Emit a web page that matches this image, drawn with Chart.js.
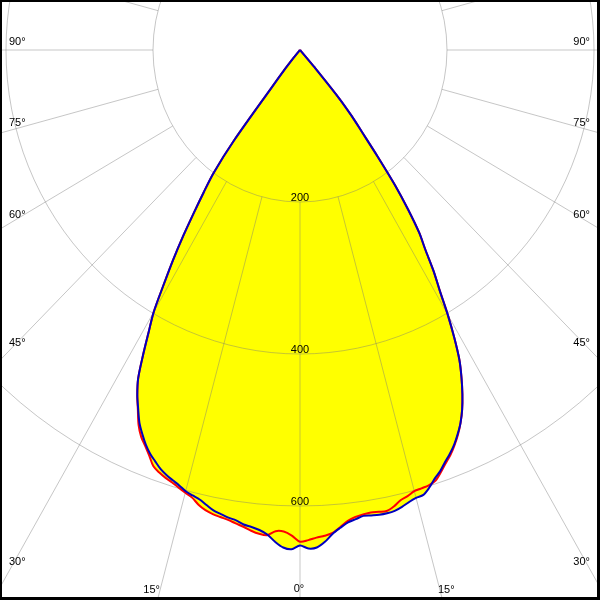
<!DOCTYPE html>
<html>
<head>
<meta charset="utf-8">
<script src="https://cdn.jsdelivr.net/npm/chart.js@4"></script>
<style>
  html, body { margin: 0; padding: 0; background: #fff; }
  canvas { display: block; }
</style>
</head>
<body>
<canvas id="grafico" width="600" height="600"></canvas>
<script>
// angles in degrees (negative = left half), intensities in cd
const angulos = [-45,-44,-43,-42,-41,-40,-39,-38,-37,-36,-35,-34,-33,-32,-31,-30,-29,-28,-27,-26,
  -25,-24,-23,-22,-21,-20,-19,-18,-17,-16,-15,-14,-13,-12,-11,-10,-9,-8,-7,-6,-5,-4,-3,-2,-1,
  0,1,2,3,4,5,6,7,8,9,10,11,12,13,14,15,16,17,18,19,20,21,22,23,24,25,
  26,27,28,29,30,31,32,33,34,35,36,37,38,39,40,41,42,43,44,45];

const curvaAzul = [0,0,0,0,5,15,35,62,150,200,228,258,292,326,360,398,425,455,485,505,
  521,537,549,560,569,576,583,588,592,596,601,604,607,612,617,620,623,625,629,631,634,639,648,655,657,
  652,656,655,648,638,631,625,622,619,620,621,621,620,617,613,610,609,602,593,586,577,569,560,549,537,522,
  504,484,462,433,402,369,343,313,290,257,220,175,137,112,80,30,5,0,0,0];

const curvaVermelha = [0,0,0,0,5,15,35,62,150,200,228,258,292,326,360,398,425,455,485,505,
  522,540,553,562,572,583,588,592,595,599,603,607,614,619,622,624,626,629,632,636,639,640,634,634,639,
  647,645,642,640,637,630,623,619,617,616,617,618,614,608,605,601,600,599,596,588,579,571,561,550,537,522,
  504,484,462,433,402,369,343,313,290,257,220,175,137,112,80,30,5,0,0,0];

const aneis = [200, 400, 600];
const rotulosAneis = ['200', '400', '600'];
const rotulosAngulos = ['0°', '15°', '30°', '45°', '60°', '75°', '90°'];

const ctx = document.getElementById('grafico');

function polar(valores) {
  return valores.map((r, i) => {
    const a = angulos[i] * Math.PI / 180;
    return { x: r * Math.sin(a), y: -r * Math.cos(a) };
  });
}

//grade polar e rotulos
const gradePolar = {
  id: 'gradePolar',
  beforeDatasetsDraw(chart) {
    const c = chart.ctx;
    const area = chart.chartArea;
    const xs = chart.scales.x, ys = chart.scales.y;
    const cx = xs.getPixelForValue(0), cy = ys.getPixelForValue(0);
    const kx = (xs.getPixelForValue(100) - cx) / 100;
    const ky = (ys.getPixelForValue(-100) - cy) / 100;
    c.save();
    c.beginPath();
    c.rect(area.left, area.top, area.width, area.height);
    c.clip();
    c.strokeStyle = 'rgba(120,120,120,0.42)';
    c.lineWidth = 1;
    aneis.forEach(r => {
      c.beginPath();
      c.ellipse(cx, cy, r * kx, r * ky, 0, 0, Math.PI * 2);
      c.stroke();
    });
    const r0 = aneis[0], r1 = 3000;
    for (let g = -165; g <= 180; g += 15) {
      const a = g * Math.PI / 180;
      c.beginPath();
      c.moveTo(cx + r0 * Math.sin(a) * kx, cy + r0 * Math.cos(a) * ky);
      c.lineTo(cx + r1 * Math.sin(a) * kx, cy + r1 * Math.cos(a) * ky);
      c.stroke();
    }
    c.fillStyle = '#000';
    c.font = '11px "Liberation Sans", Arial, sans-serif';
    c.textBaseline = 'alphabetic';
    c.textAlign = 'center';
    aneis.forEach((r, i) => {
      c.fillText(rotulosAneis[i], cx, cy + r * ky - 1);
    });
    const baseLado = [45, 126, 218, 346, 565];
    [6, 5, 4, 3, 2].forEach((k, i) => {
      c.textAlign = 'left';
      c.fillText(rotulosAngulos[k], 9, baseLado[i]);
      c.textAlign = 'right';
      c.fillText(rotulosAngulos[k], 590, baseLado[i]);
    });
    c.textAlign = 'right';
    c.fillText(rotulosAngulos[1], 160, 593);
    c.textAlign = 'center';
    c.fillText(rotulosAngulos[0], 299, 592);
    c.textAlign = 'left';
    c.fillText(rotulosAngulos[1], 438, 593);
    c.restore();
  },
  afterDraw(chart) {
    const c = chart.ctx;
    c.save();
    c.fillStyle = '#000';
    c.fillRect(0, 0, 600, 2);
    c.fillRect(0, 0, 2, 600);
    c.fillRect(597, 0, 3, 600);
    c.fillRect(0, 597, 600, 3);
    c.restore();
  }
};

new Chart(ctx, {
  type: 'line',
  data: {
    datasets: [{
      label: 'C0-C180',
      data: polar(curvaAzul),
      borderColor: '#0000c0',
      backgroundColor: '#ffff00',
      borderWidth: 2,
      fill: 'shape',
      pointRadius: 0,
      tension: 0.3
    }, {
      label: 'C90-C270',
      data: polar(curvaVermelha),
      borderColor: '#ff0000',
      backgroundColor: '#ffff00',
      borderWidth: 2,
      fill: 'shape',
      pointRadius: 0,
      tension: 0.3
    }]
  },
  options: {
    responsive: false,
    animation: false,
    layout: { padding: 0 },
    scales: {
      x: { type: 'linear', display: false, min: -408.16, max: 408.16 },
      y: { type: 'linear', display: false, min: -723.68, max: 65.79 }
    },
    plugins: {
      legend: { display: false },
      tooltip: { enabled: false },
      filler: { drawTime: 'beforeDatasetsDraw' }
    }
  },
  plugins: [gradePolar]
});
</script>
</body>
</html>
